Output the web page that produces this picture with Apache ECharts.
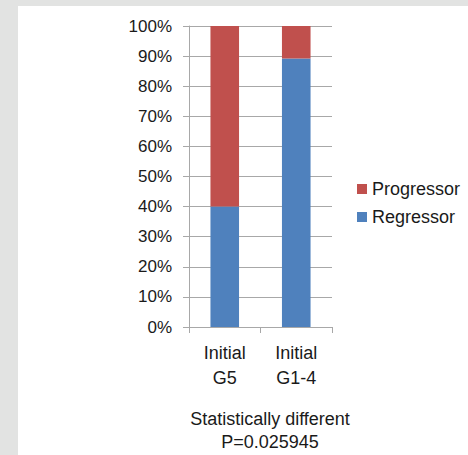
<!DOCTYPE html>
<html>
<head>
<meta charset="utf-8">
<script src="https://cdn.jsdelivr.net/npm/echarts@6/dist/echarts.min.js"></script>
<style>
html,body{margin:0;padding:0;background:#e2e3e2;width:468px;height:455px;overflow:hidden;}
#panel{position:absolute;left:18px;top:6px;width:450px;height:449px;background:#fff;}
#chart{width:450px;height:449px;}
</style>
</head>
<body>
<div id="panel"><div id="chart"></div></div>
<script>
const categories = ['Initial\nG5', 'Initial\nG1-4'];
const regressor = [40, 89.2];
const progressor = [60, 10.8];
const yTicks = [0, 10, 20, 30, 40, 50, 60, 70, 80, 90, 100];
const noteLines = ['Statistically different', 'P=0.025945'];

const font = 'Liberation Sans';
const txt = '#1a1a1a';
const gridCol = '#a8a8a8';

const chart = echarts.init(document.getElementById('chart'), null, {renderer: 'svg'});
chart.setOption({
  animation: false,
  grid: {left: 171, right: 136, top: 20, bottom: 128, containLabel: false},
  legend: {
    data: ['Progressor', 'Regressor'],
    orient: 'vertical',
    left: 334, top: 169,
    itemWidth: 10, itemHeight: 10, itemGap: 10,
    icon: 'rect',
    textStyle: {fontFamily: font, fontSize: 18, color: txt, lineHeight: 18}
  },
  xAxis: {
    type: 'category',
    data: categories,
    axisLine: {lineStyle: {color: gridCol, width: 1}},
    axisTick: {show: true, length: 6, lineStyle: {color: gridCol}},
    axisLabel: {fontFamily: font, fontSize: 18, color: txt, lineHeight: 25, margin: 13}
  },
  yAxis: {
    type: 'value',
    min: yTicks[0], max: yTicks[yTicks.length - 1], interval: 10,
    axisLine: {show: true, lineStyle: {color: gridCol, width: 1}},
    axisTick: {show: true, length: 6, lineStyle: {color: gridCol}},
    splitLine: {show: true, lineStyle: {color: gridCol, width: 1}},
    axisLabel: {fontFamily: font, fontSize: 17, color: txt, margin: 17, formatter: '{value}%'}
  },
  series: [
    {name: 'Regressor', type: 'bar', stack: 's', data: regressor, barWidth: '40%',
     itemStyle: {color: '#4F81BD'}},
    {name: 'Progressor', type: 'bar', stack: 's', data: progressor, barWidth: '40%',
     itemStyle: {color: '#C0504D'}}
  ],
  graphic: [{
    type: 'text', x: 252, y: 401,
    style: {text: noteLines.join('\n'), fontFamily: font, fontSize: 18, fill: txt,
            textAlign: 'center', lineHeight: 23}
  }]
});
</script>
</body>
</html>
